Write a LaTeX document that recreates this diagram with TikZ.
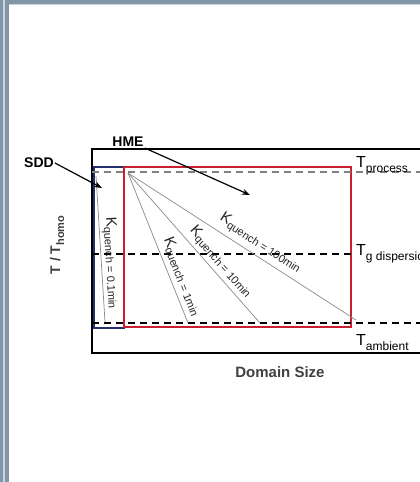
\documentclass[tikz,border=0pt]{standalone}
\usepackage{fontspec}
\setmainfont{Liberation Sans}
\usepackage{xcolor}
\usetikzlibrary{arrows.meta, positioning}

\definecolor{framegray}{HTML}{8197A9}
\definecolor{framelight}{HTML}{C9D4DD}
\definecolor{hmered}{HTML}{C8202E}
\definecolor{sddblue}{HTML}{24306E}
\definecolor{fangray}{HTML}{8A8A8A}

\newcommand{\kq}[1]{{\fontsize{15}{15}\selectfont K}\raisebox{-3pt}{\fontsize{11}{11}\selectfont quench = #1}}
\newcommand{\tlev}[1]{{\fontsize{16}{16}\selectfont T}\raisebox{-5pt}{\fontsize{12}{12}\selectfont #1}}

\begin{document}
\begin{tikzpicture}[x=1pt, y=-1pt,
        outerbox/.style={draw, line width=1.8pt},
        redbox/.style={draw=hmered, line width=1.8pt},
        bluebox/.style={draw=sddblue, line width=1.2pt},
        level/.style={dashed, dash pattern=on 7pt off 5pt, line width=1.3pt},
        fanline/.style={draw=fangray, line width=0.7pt},
        klabel/.style={sloped, above, inner sep=3pt, text=black!85},
        callout/.style={font=\bfseries\fontsize{14}{14}\selectfont, inner sep=1pt},
        tlabel/.style={anchor=base west, inner sep=0pt},
        arrow/.style={-{Stealth[length=8pt, width=6pt]}, line width=1.2pt}
    ]
        \clip (0,0) rectangle (420,482);
        \fill[white] (0,0) rectangle (420,482);

        % Page frame
        \fill[framegray] (0,0) rectangle (3,482);
        \fill[framelight] (3,0) rectangle (5,482);
        \fill[framegray] (5,0) rectangle (9,482);
        \fill[framegray] (9,0) rectangle (420,4);
        \fill[framelight] (9,4) rectangle (420,5);

        % Boxes
        \draw[outerbox] (92,149) rectangle (440,353);
        \draw[bluebox] (94,167) rectangle (124,328);
        \draw[redbox] (124,167) rectangle (351,327);

        % Temperature levels
        \coordinate (topL) at (92,172);
        \coordinate (topR) at (420,172);
        \coordinate (midL) at (92,254);
        \coordinate (midR) at (352,254);
        \coordinate (botL) at (92,323);
        \coordinate (botR) at (420,323);
        \draw[level, draw=gray] (topL) -- (topR);
        \draw[level] (midL) -- (midR);
        \draw[level] (botL) -- (botR);

        \node[tlabel] (tproc) at (356,167) {\tlev{process}};
        \node[tlabel] (tg) at (356,255) {\tlev{g dispersion}};
        \node[tlabel] (tamb) at (356,345) {\tlev{ambient}};

        % Quench lines
        \coordinate (sddtop) at (96,176);
        \coordinate (sddbot) at (105,322);
        \draw[fanline] (sddtop) -- node[klabel, pos=0.6, inner sep=2pt] {\kq{0.1min}} (sddbot);

        \coordinate (corner) at (128,173);
        \coordinate (e1) at (188,323);
        \coordinate (e2) at (260,323);
        \coordinate (e3) at (356,320);
        \draw[fanline] (corner) -- node[klabel, pos=0.72] {\kq{1min}} (e1);
        \draw[fanline] (corner) -- node[klabel, pos=0.64] {\kq{10min}} (e2);
        \draw[fanline] (corner) -- node[klabel, pos=0.55, inner sep=5pt] {\kq{100min}} (e3);

        % Callouts
        \node[callout] (sdd) at (39,163) {SDD};
        \node[callout] (hme) at (128,142) {HME};
        \coordinate (sddtip) at (102,188);
        \coordinate (hmetip) at (250,195);
        \draw[arrow] (sdd.east) -- (sddtip);
        \draw[arrow] (hme.south east) -- (hmetip);

        % Axes
        \node[font=\bfseries, text=black!75, rotate=90] (ylab) at (57,245) {{\fontsize{14}{14}\selectfont T / T}\raisebox{-4pt}{\fontsize{11}{11}\selectfont homo}};
        \node[font=\bfseries\fontsize{15}{15}\selectfont, text=black!75] (xlab) at (280,372) {Domain Size};
    \end{tikzpicture}
\end{document}
